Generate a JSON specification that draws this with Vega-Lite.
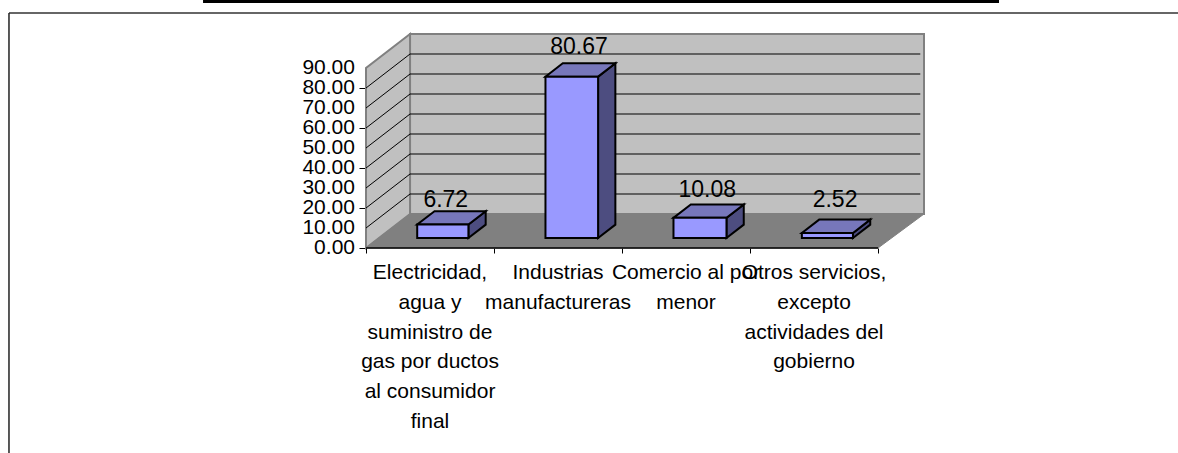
{
"$schema":"https://vega.github.io/schema/vega-lite/v6.json",
"width":558,"height":214,
"autosize":"none",
"padding":{"left":366,"top":34,"right":254,"bottom":205},
"background":"white",
"view":{"stroke":null},
"config":{"font":"Liberation Sans"},
"datasets":{
"bars":[
{"category":"Electricidad, agua y suministro de gas por ductos al consumidor final","value":6.72,"left":0.4,"right":0.8,"labelX":0.623,"labelAt":20.65,"center":0.5,"axisText":"Electricidad,\nagua y\nsuministro de\ngas por ductos\nal consumidor\nfinal"},
{"category":"Industrias manufactureras","value":80.67,"left":1.402,"right":1.813,"labelX":1.664,"labelAt":96.85,"center":1.5,"axisText":"Industrias\nmanufactureras"},
{"category":"Comercio al por menor","value":10.08,"left":2.402,"right":2.816,"labelX":2.666,"labelAt":25.65,"center":2.5,"axisText":"Comercio al por\nmenor"},
{"category":"Otros servicios, excepto actividades del gobierno","value":2.52,"left":3.405,"right":3.804,"labelX":3.664,"labelAt":20.65,"center":3.5,"axisText":"Otros servicios,\nexcepto\nactividades del\ngobierno"}
],
"sides":[
{"bar":"a","u":0.8,"low":5,"high":11.72},{"bar":"a","u":0.935,"low":11.67,"high":18.39},
{"bar":"b","u":1.813,"low":5,"high":85.67},{"bar":"b","u":1.948,"low":11.67,"high":92.34},
{"bar":"c","u":2.816,"low":5,"high":15.08},{"bar":"c","u":2.951,"low":11.67,"high":21.75},
{"bar":"d","u":3.804,"low":5,"high":7.52},{"bar":"d","u":3.939,"low":11.67,"high":14.19}
],
"tops":[
{"bar":"a","v":11.72,"from":0.4,"to":0.8},{"bar":"a","v":18.39,"from":0.535,"to":0.935},
{"bar":"b","v":85.67,"from":1.402,"to":1.813},{"bar":"b","v":92.34,"from":1.537,"to":1.948},
{"bar":"c","v":15.08,"from":2.402,"to":2.816},{"bar":"c","v":21.75,"from":2.537,"to":2.951},
{"bar":"d","v":7.52,"from":3.405,"to":3.804},{"bar":"d","v":14.19,"from":3.54,"to":3.939}
],
"leftWall":[{"u":0,"low":0,"high":90},{"u":0.344,"low":17,"high":107}],
"floor":[{"v":0,"from":0,"to":4},{"v":17,"from":0.344,"to":4.359}],
"grid":[
{"level":10,"back":27},{"level":20,"back":37},{"level":30,"back":47},{"level":40,"back":57},
{"level":50,"back":67},{"level":60,"back":77},{"level":70,"back":87},{"level":80,"back":97}
],
"yLabels":[{"level":0},{"level":10},{"level":20},{"level":30},{"level":40},{"level":50},{"level":60},{"level":70},{"level":80},{"level":90}]
},
"layer":[
{"data":{"values":[{"wall":"back"}]},
 "mark":{"type":"rect","fill":"#C0C0C0","stroke":"#808080","strokeWidth":2},
 "encoding":{
  "x":{"datum":0.344,"type":"quantitative","scale":{"domain":[0,4.359],"nice":false,"zero":false},
       "axis":{"values":[0,1,2,3,4],"labels":false,"domain":false,"grid":false,"ticks":true,"tickSize":5,"tickColor":"#000","title":null}},
  "x2":{"datum":4.359},
  "y":{"datum":17,"type":"quantitative","scale":{"domain":[0,107],"nice":false,"zero":false},
       "axis":{"values":[0,10,20,30,40,50,60,70,80,90],"labels":false,"domain":false,"grid":false,"tickSize":7,"tickColor":"#000","title":null}},
  "y2":{"datum":107}}},
{"data":{"name":"leftWall"},
 "mark":{"type":"area","fill":"#C0C0C0","stroke":"#808080","strokeWidth":2},
 "encoding":{"x":{"field":"u","type":"quantitative"},"y":{"field":"low","type":"quantitative"},"y2":{"field":"high"}}},
{"data":{"name":"floor"},
 "mark":{"type":"area","orient":"horizontal","fill":"#808080","stroke":"#808080","strokeWidth":1},
 "encoding":{"y":{"field":"v","type":"quantitative"},"x":{"field":"from","type":"quantitative"},"x2":{"field":"to"}}},
{"data":{"name":"grid"},
 "mark":{"type":"rule","color":"#000","strokeWidth":1},
 "encoding":{"x":{"datum":0.344,"type":"quantitative"},"x2":{"datum":4.33},"y":{"field":"back","type":"quantitative"}}},
{"data":{"name":"grid"},
 "mark":{"type":"rule","color":"#000","strokeWidth":1},
 "encoding":{"x":{"datum":0,"type":"quantitative"},"x2":{"datum":0.344},"y":{"field":"level","type":"quantitative"},"y2":{"field":"back"}}},
{"data":{"values":[{"edge":"front"}]},
 "mark":{"type":"rule","color":"#000","strokeWidth":1.5},
 "encoding":{"x":{"datum":0,"type":"quantitative"},"x2":{"datum":4},"y":{"datum":0,"type":"quantitative"}}},
{"data":{"values":[{"edge":"top"}]},
 "mark":{"type":"rule","color":"#333333","strokeWidth":1.5},
 "encoding":{"x":{"datum":-2.789,"type":"quantitative"},"x2":{"datum":6.344},"y":{"datum":117.5,"type":"quantitative"}}},
{"data":{"values":[{"edge":"left"}]},
 "mark":{"type":"rule","color":"#222222","strokeWidth":1.5},
 "encoding":{"x":{"datum":-2.789,"type":"quantitative"},"y":{"datum":117.5,"type":"quantitative"},"y2":{"datum":-102.5}}},
{"data":{"values":[{"edge":"titlebar"}]},
 "mark":{"type":"rect","color":"#000"},
 "encoding":{"x":{"datum":-1.273,"type":"quantitative"},"x2":{"datum":4.945},"y":{"datum":122.5,"type":"quantitative"},"y2":{"datum":124}}},
{"data":{"name":"sides"},
 "mark":{"type":"area","fill":"#4D4D80","stroke":"#000","strokeWidth":2},
 "encoding":{"x":{"field":"u","type":"quantitative"},"y":{"field":"low","type":"quantitative"},"y2":{"field":"high"},"detail":{"field":"bar"}}},
{"data":{"name":"tops"},
 "mark":{"type":"area","orient":"horizontal","fill":"#7777BB","stroke":"#000","strokeWidth":2},
 "encoding":{"y":{"field":"v","type":"quantitative"},"x":{"field":"from","type":"quantitative"},"x2":{"field":"to"},"detail":{"field":"bar"}}},
{"data":{"name":"bars"},
 "mark":{"type":"rect","fill":"#9999FF","stroke":"#000","strokeWidth":2,"yOffset":-10,"y2Offset":-10},
 "encoding":{"x":{"field":"left","type":"quantitative"},"x2":{"field":"right"},"y":{"field":"value","type":"quantitative"},"y2":{"datum":0}}},
{"data":{"name":"bars"},
 "mark":{"type":"text","fontSize":23,"font":"Liberation Sans","color":"#000","baseline":"alphabetic","align":"center"},
 "encoding":{"x":{"field":"labelX","type":"quantitative"},"y":{"field":"labelAt","type":"quantitative"},"text":{"field":"value","type":"quantitative","format":".2f"}}},
{"data":{"name":"yLabels"},
 "mark":{"type":"text","fontSize":21,"font":"Liberation Sans","color":"#000","baseline":"middle","align":"right"},
 "encoding":{"x":{"datum":-0.086,"type":"quantitative"},"y":{"field":"level","type":"quantitative"},"text":{"field":"level","type":"quantitative","format":".2f"}}},
{"data":{"name":"bars"},
 "mark":{"type":"text","fontSize":21,"font":"Liberation Sans","color":"#000","baseline":"top","align":"center","lineBreak":"\n","lineHeight":29.8},
 "encoding":{"x":{"field":"center","type":"quantitative"},"y":{"datum":-7,"type":"quantitative"},"text":{"field":"axisText"}}}
]
}
